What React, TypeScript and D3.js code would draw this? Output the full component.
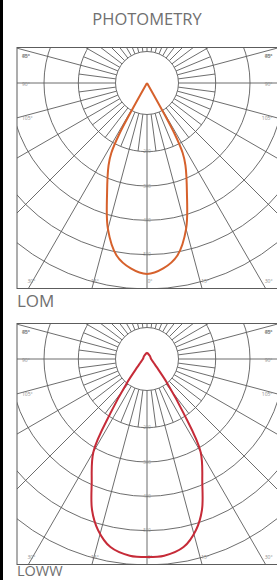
import * as d3 from 'd3';
import { useRef, useEffect } from 'react';

// chart text
const title = 'PHOTOMETRY';
const panelNames = ['LOM', 'LOWW'];
const curveColors = ['#d6612c', '#c62b38'];

// polar grid
const ringValues = [200, 300, 400, 500, 600];
const ringLabels = ['200', '300', '400', '500'];
const sideAngleLabels = [105, 90, 75, 60, 45];
const bottomAngleLabels = [-30, -15, 0, 15, 30];

// intensity curves (angle from nadir in degrees, value in grid units)
const lomAngles = [0, 5, 10, 15, 20, 25, 27, 28.5, 30];
const lomValues = [556, 542, 510, 440, 340, 265, 229, 169, 0];
const lowwAngles = [0, 5, 11, 16, 20, 24, 30, 34, 40, 50, 60, 90, 135, 180];
const lowwValues = [577, 575, 558, 518, 468, 396, 312, 191, 91, 37, 23, 12, 12, 19];

export default function App() {
    const ref = useRef(null);

    useEffect(() => {
        const height = 580;
        const svg = d3.select(ref.current);
        svg.selectAll('*').remove();

        const boxLeft = 17;
        const boxRight = 277.5;
        const boxHeight = 241;
        const panelTops = [47.5, 323.5];
        const labelBaselines = [307, 575.5];
        const labelSizes = [17, 14.5];
        const cx = 147;
        const innerR = 31.5;
        const gridColor = '#5c5c5c';
        const textColor = '#707070';

        const r = d3.scaleLinear().domain([0, 600]).range([0, 206]);
        const rad = d => (d * Math.PI) / 180;

        // left black border
        svg.append('rect').attr('x', 0).attr('y', 0).attr('width', 3).attr('height', height).attr('fill', '#000');

        svg.append('text')
            .attr('x', cx)
            .attr('y', 25)
            .attr('text-anchor', 'middle')
            .style('font-family', '"Open Sans", sans-serif')
            .style('font-size', '16.5px')
            .attr('fill', textColor)
            .text(title);

        const curves = [
            { angles: lomAngles, values: lomValues },
            { angles: lowwAngles, values: lowwValues }
        ];

        panelTops.forEach((top, i) => {
            const cy = top + 35.5;
            const bottom = top + boxHeight;
            const g = svg.append('g');

            const clipId = `clip-${i}`;
            svg.append('clipPath').attr('id', clipId)
                .append('rect')
                .attr('x', boxLeft).attr('y', top)
                .attr('width', boxRight - boxLeft).attr('height', boxHeight);

            const grid = g.append('g').attr('clip-path', `url(#${clipId})`);

            // rays: major every 15 deg to the edge, minor every 7.5 deg to the first ring
            d3.range(-180, 180, 7.5).forEach(a => {
                const major = a % 15 === 0;
                const outer = major ? 400 : r(ringValues[0]);
                grid.append('line')
                    .attr('x1', cx + innerR * Math.sin(rad(a)))
                    .attr('y1', cy + innerR * Math.cos(rad(a)))
                    .attr('x2', cx + outer * Math.sin(rad(a)))
                    .attr('y2', cy + outer * Math.cos(rad(a)))
                    .attr('stroke', gridColor)
                    .attr('stroke-width', 0.9);
            });

            grid.selectAll('circle.ring')
                .data(ringValues)
                .enter()
                .append('circle')
                .attr('cx', cx)
                .attr('cy', cy)
                .attr('r', d => r(d))
                .attr('fill', 'none')
                .attr('stroke', gridColor)
                .attr('stroke-width', 0.9);

            grid.append('circle')
                .attr('cx', cx).attr('cy', cy).attr('r', innerR)
                .attr('fill', '#fff')
                .attr('stroke', gridColor)
                .attr('stroke-width', 0.9);

            // ring value labels on the vertical axis
            grid.selectAll('text.ring')
                .data(ringLabels)
                .enter()
                .append('text')
                .attr('x', cx)
                .attr('y', (d, j) => cy + r(ringValues[j]) + 1.5)
                .attr('text-anchor', 'middle')
                .style('font-family', '"Open Sans", sans-serif')
                .style('font-size', '4.5px')
                .attr('fill', '#9a9a9a')
                .text(d => d);

            // angle labels at the sides
            sideAngleLabels.forEach(a => {
                const rayY = cy - (boxRight - boxLeft) / 2 / Math.tan(rad(a));
                const y = Math.max(rayY, top + 8) + 2.5;
                [[boxLeft + 5, 'start'], [boxRight - 5, 'end']].forEach(([x, anchor]) => {
                    grid.append('text')
                        .attr('x', x).attr('y', y)
                        .attr('text-anchor', anchor)
                        .style('font-family', '"Open Sans", sans-serif')
                        .style('font-size', '5px')
                        .attr('fill', '#8a8a8a')
                        .text(`${a}°`);
                });
            });

            bottomAngleLabels.forEach(a => {
                grid.append('text')
                    .attr('x', cx + (bottom - cy) * Math.tan(rad(a)) + 3)
                    .attr('y', bottom - 5.5)
                    .attr('text-anchor', 'middle')
                    .style('font-family', '"Open Sans", sans-serif')
                    .style('font-size', '5px')
                    .attr('fill', '#8a8a8a')
                    .text(`${Math.abs(a)}°`);
            });

            g.append('rect')
                .attr('x', boxLeft).attr('y', top)
                .attr('width', boxRight - boxLeft).attr('height', boxHeight)
                .attr('fill', 'none')
                .attr('stroke', gridColor)
                .attr('stroke-width', 1);

            // mirrored intensity curve
            const { angles, values } = curves[i];
            const pts = angles.map((a, j) => [a, values[j]]);
            const full = pts.slice(1).reverse().map(([a, v]) => [-a, v]).concat(pts);
            const line = d3.line()
                .x(d => cx + r(d[1]) * Math.sin(rad(d[0])))
                .y(d => cy + r(d[1]) * Math.cos(rad(d[0])))
                .curve(d3.curveCatmullRom);

            g.append('path')
                .attr('d', line(full))
                .attr('fill', 'none')
                .attr('stroke', curveColors[i])
                .attr('stroke-width', 2);

            svg.append('text')
                .attr('x', boxLeft)
                .attr('y', labelBaselines[i])
                .style('font-family', '"Open Sans", sans-serif')
                .style('font-size', `${labelSizes[i]}px`)
                .attr('fill', textColor)
                .text(panelNames[i]);
        });
    }, []);

    return (
        <svg ref={ref} width={277} height={580} style={{ position: 'absolute', left: 0, top: 0, background: '#fff' }}></svg>
    );
}
